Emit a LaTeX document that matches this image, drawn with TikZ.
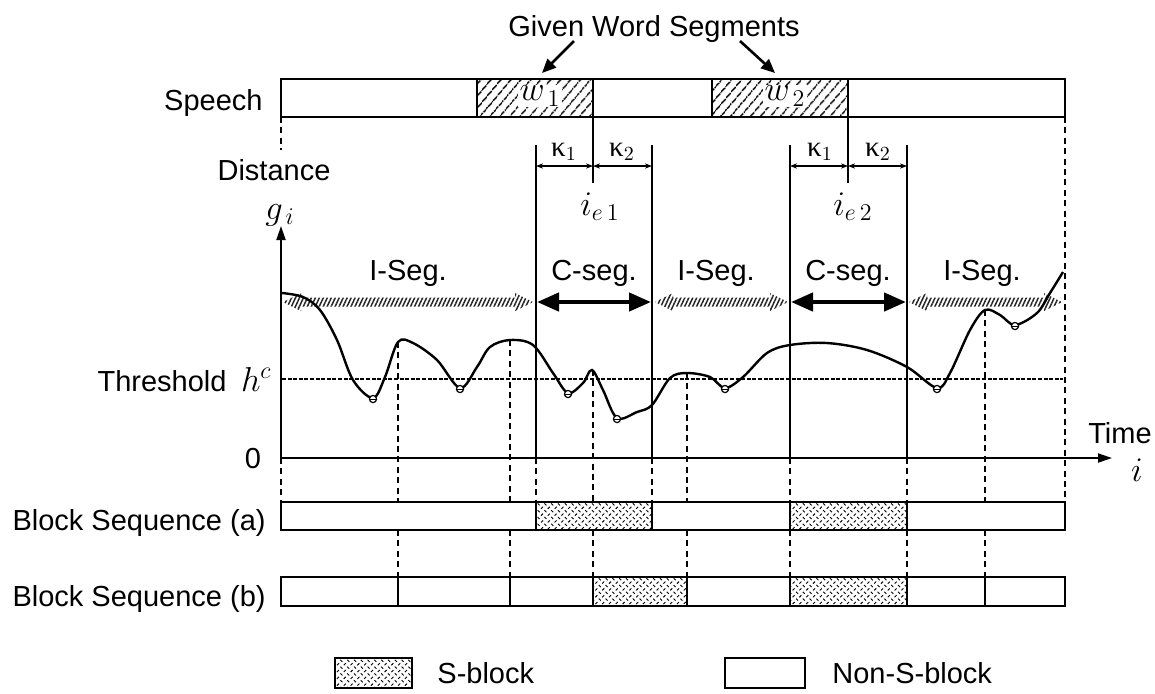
\documentclass[tikz,border=0pt]{standalone}
\usepackage{fontspec}
\setmainfont{Liberation Sans}
\newfontfamily\greekser{Liberation Serif}
\usetikzlibrary{patterns,patterns.meta,arrows.meta}

% fine texture used for S-blocks
\pgfdeclarepatternformonly{sblocktex}{\pgfqpoint{-0.5pt}{-0.5pt}}{\pgfqpoint{4pt}{4pt}}{\pgfqpoint{3.4pt}{3.4pt}}{%
  \pgfsetlinewidth{0.45pt}%
  \pgfpathmoveto{\pgfqpoint{0.2pt}{3.0pt}}\pgfpathlineto{\pgfqpoint{1.2pt}{2.0pt}}%
  \pgfpathmoveto{\pgfqpoint{1.9pt}{0.3pt}}\pgfpathlineto{\pgfqpoint{2.9pt}{1.3pt}}%
  \pgfusepath{stroke}}

% hatched double arrow for the I-segments: from x=#1 to x=#2 at height #3
\newcommand\hatcharrow[3]{%
  \fill[pattern={Lines[angle=65,distance=1.8pt,line width=0.75pt]},pattern color=black!85]
    (#1,#3) -- (#1+18,#3-9) -- (#1+18,#3-4.5) -- (#2-18,#3-4.5) -- (#2-18,#3-9) -- (#2,#3)
    -- (#2-18,#3+9) -- (#2-18,#3+4.5) -- (#1+18,#3+4.5) -- (#1+18,#3+9) -- cycle;}

\newcommand\kap[1]{{\greekser κ}$_{#1}$}
\newcommand\mathsz{\fontsize{17.5}{20}\selectfont}

\begin{document}
\begin{tikzpicture}[x=0.5pt,y=-0.5pt,
  font=\fontsize{14.5}{17}\selectfont,
  lbl/.style={inner sep=0pt},
  bar/.style={line width=1pt},
  axisline/.style={line width=1pt},
  segline/.style={line width=0.85pt},
  dashline/.style={line width=0.8pt,dash pattern=on 3pt off 2.2pt},
  thresh/.style={line width=1.3pt,dash pattern=on 2pt off 0.8pt},
  curveline/.style={line width=1.2pt},
  gwarrow/.style={line width=1.3pt,-{Triangle[length=7pt,width=6pt]}},
  dimarrow/.style={line width=0.55pt,{Stealth[length=3.5pt,width=2.6pt]}-{Stealth[length=3.5pt,width=2.6pt]}},
  cseg/.style={line width=2.2pt,{Triangle[length=11pt,width=9pt]}-{Triangle[length=11pt,width=9pt]}},
  wfill/.style={pattern={Lines[angle=50,distance=4pt,line width=0.85pt]}},
  sfill/.style={pattern=sblocktex},
  minmark/.style={circle,draw,line width=0.6pt,fill=white,inner sep=0pt,minimum size=3.6pt}
]
\useasboundingbox (0,0) rectangle (1155,693);

% ---------------- speech bar with the two given words ----------------
\fill[wfill] (477,79) rectangle (593,117);
\fill[wfill] (712,79) rectangle (848,117);
\draw[bar] (281,79) rectangle (1065,117);
\draw[bar] (477,79) -- (477,117) (593,79) -- (593,117) (712,79) -- (712,117) (848,79) -- (848,117);
\node[lbl,fill=white,inner sep=0.6pt] (w1) at (540,96) {\mathsz$w_{\,1}$};
\node[lbl,fill=white,inner sep=0.6pt] (w2) at (785,96) {\mathsz$w_{\,2}$};
\node[lbl,anchor=base east] (speech) at (263,110) {Speech};

\node[lbl,anchor=base] (gws) at (654,36) {Given Word Segments};
\coordinate (g1s) at (574,41);  \coordinate (g1e) at (542,73);
\coordinate (g2s) at (740,41);  \coordinate (g2e) at (775,73);
\draw[gwarrow] (g1s) -- (g1e);
\draw[gwarrow] (g2s) -- (g2e);

% ---------------- word end points and context widths ----------------
\draw[segline] (593,117) -- (593,183) (848,117) -- (848,183);
\foreach \xx in {536,652,790,907} \draw[segline] (\xx,145) -- (\xx,458);
\draw[dimarrow] (536,166) -- (593,166);
\draw[dimarrow] (593,166) -- (652,166);
\draw[dimarrow] (790,166) -- (848,166);
\draw[dimarrow] (848,166) -- (907,166);
\node[lbl] (k11) at (564,152) {\kap{1}};
\node[lbl] (k21) at (622,152) {\kap{2}};
\node[lbl] (k12) at (820,152) {\kap{1}};
\node[lbl] (k22) at (878,152) {\kap{2}};
\node[lbl] (ie1) at (600,207) {\mathsz$i_{e\,1}$};
\node[lbl] (ie2) at (853,207) {\mathsz$i_{e\,2}$};

% ---------------- segment arrows ----------------
\hatcharrow{283}{533}{302}
\hatcharrow{655}{788}{302}
\hatcharrow{909}{1062}{302}
\draw[cseg] (537,302) -- (651,302);
\draw[cseg] (791,302) -- (906,302);
\node[lbl,anchor=base] (is1) at (408,280) {I-Seg.};
\node[lbl,anchor=base] (cs1) at (594,280) {C-seg.};
\node[lbl,anchor=base] (is2) at (716,280) {I-Seg.};
\node[lbl,anchor=base] (cs2) at (848,280) {C-seg.};
\node[lbl,anchor=base] (is3) at (982,280) {I-Seg.};

% ---------------- dashed guide lines ----------------
\draw[dashline] (281,117) -- (281,150);
\draw[dashline] (1065,117) -- (1065,502);
\draw[dashline] (281,458) -- (281,502);
\foreach \xx/\yy in {398/342,510/340,593/370,687/373,985/310}{
  \draw[dashline] (\xx,\yy) -- (\xx,502);
  \draw[dashline] (\xx,530) -- (\xx,577);
}
\foreach \xx in {536,652} \draw[dashline] (\xx,458) -- (\xx,502);
\foreach \xx in {790,907}{
  \draw[dashline] (\xx,458) -- (\xx,502);
  \draw[dashline] (\xx,530) -- (\xx,577);
}

% ---------------- threshold and distance curve ----------------
\draw[thresh] (282,379) -- (1063,379);
\draw[curveline] plot[smooth,tension=0.55] coordinates {
  (282,293) (303,297) (320,310) (337,340) (353,380) (373,398) (385,377) (398,342)
  (413,343) (437,360) (460,388) (477,367) (490,347) (510,340) (533,345) (553,373)
  (568,393) (583,383) (592,370) (603,390) (617,418) (637,412) (652,405) (670,378)
  (687,373) (710,377) (725,388) (743,377) (767,353) (790,345) (827,343) (867,350)
  (907,367) (937,388) (950,373) (970,330) (985,310) (1000,315) (1015,325) (1037,313)
  (1050,293) (1063,272)};
\foreach \xx/\yy [count=\k] in {373/398,460/388,568/393,617/418,725/388,937/388,1015/325}{
  \node[minmark] (m\k) at (\xx,\yy+1) {};
  \draw[line width=0.45pt] (\xx-3,\yy+1) -- (\xx+3,\yy+1);
}

% ---------------- axes ----------------
\draw[axisline,-{Triangle[length=7pt,width=4.5pt]}] (281,458) -- (281,226);
\draw[axisline,-{Triangle[length=7pt,width=4.5pt]}] (281,458) -- (1112,458);
\node[lbl] (dist) at (274,170) {Distance};
\node[lbl,anchor=base] (gi) at (280,219) {\mathsz$g_{\,i}$};
\node[lbl,anchor=base east] (thr) at (272,391) {Threshold\hspace{0.5em}{\mathsz$h^c$}};
\node[lbl] (zero) at (253,458) {0};
\node[lbl] (time) at (1120,433) {Time};
\node[lbl] (iax) at (1137,470) {\mathsz$i$};

% ---------------- block sequences ----------------
\fill[sfill] (536,502) rectangle (652,530);
\fill[sfill] (790,502) rectangle (907,530);
\draw[bar] (281,502) rectangle (1065,530);
\draw[bar] (536,502) -- (536,530) (652,502) -- (652,530) (790,502) -- (790,530) (907,502) -- (907,530);
\node[lbl,anchor=base east] (bsa) at (266,530) {Block Sequence (a)};

\fill[sfill] (593,577) rectangle (687,606);
\fill[sfill] (790,577) rectangle (907,606);
\draw[bar] (281,577) rectangle (1065,606);
\foreach \xx in {398,510,593,687,790,907,985} \draw[bar] (\xx,577) -- (\xx,606);
\node[lbl,anchor=base east] (bsb) at (266,606) {Block Sequence (b)};

% ---------------- legend ----------------
\fill[sfill] (335,658) rectangle (412,688);
\draw[bar] (335,658) rectangle (412,688);
\node[lbl,anchor=base west] (lgs) at (437,683) {S-block};
\draw[bar] (725,658) rectangle (805,688);
\node[lbl,anchor=base west] (lgn) at (832,683) {Non-S-block};
\end{tikzpicture}
\end{document}
